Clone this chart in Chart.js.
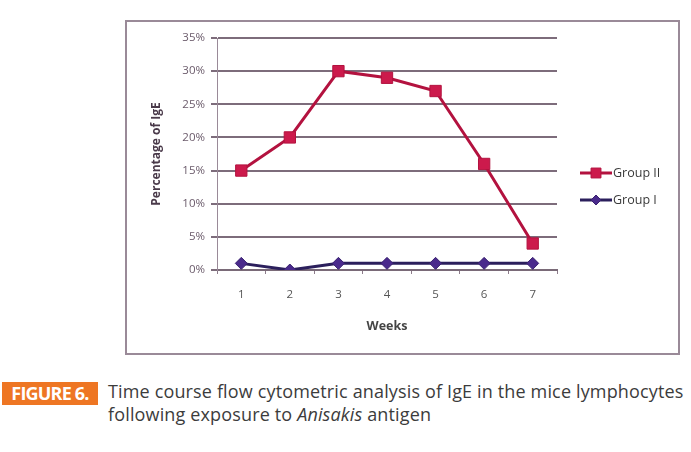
<!DOCTYPE html>
<html lang="en">
<head>
  <meta charset="UTF-8" />
  <title>Figure 6</title>
  <script src="https://cdn.jsdelivr.net/npm/chart.js"></script>
  <style>
    body { margin: 0; width: 691px; height: 452px; background: #fff; position: relative; overflow: hidden; }
    .chart-box { position: absolute; left: 125px; top: 20px; width: 551px; height: 331px; border: 2px solid #9a8a98; }
    .chart-box canvas { display: block; }
    .caption { position: absolute; left: 0; top: 380px; font-family: "Open Sans", sans-serif; color: #3c3c3c; font-size: 18px; line-height: 23px; }
    .caption .tag { position: absolute; left: 2px; top: 2px; width: 96px; height: 23px; background: #ee7623; color: #fff; font-weight: bold; font-size: 18px; line-height: 23px; text-align: center; letter-spacing: -0.8px; }
    .caption .txt { position: absolute; left: 108px; top: 0; width: 600px; white-space: nowrap; letter-spacing: 0.15px; }
  </style>
</head>
<body>

  <div class="chart-box">
    <canvas id="chart" width="551" height="331"></canvas>
  </div>

  <div class="caption">
    <div class="tag">FIGURE 6.</div>
    <div class="txt">Time course flow cytometric analysis of IgE in the mice lymphocytes<br>following exposure to <i>Anisakis</i> antigen</div>
  </div>

  <script>
    const weeks = ["1", "2", "3", "4", "5", "6", "7"];
    const groupII = [15, 20, 30, 29, 27, 16, 4];
    const groupI = [1, 0, 1, 1, 1, 1, 1];
    const yTicks = [0, 5, 10, 15, 20, 25, 30, 35];

    // legende a droite : trait + marqueur comme dans Excel
    const legendeExcel = {
      id: "legendeExcel",
      afterDraw(chart) {
        const ctx = chart.ctx;
        const x0 = chart.chartArea.right + 23;
        let y = 151;
        chart.data.datasets.forEach(ds => {
          ctx.save();
          ctx.strokeStyle = ds.borderColor;
          ctx.lineWidth = 3;
          ctx.beginPath();
          ctx.moveTo(x0, y);
          ctx.lineTo(x0 + 32, y);
          ctx.stroke();
          ctx.fillStyle = ds.pointBackgroundColor;
          ctx.strokeStyle = ds.pointBorderColor;
          ctx.lineWidth = 1;
          Chart.helpers.drawPoint(ctx, { pointStyle: ds.pointStyle, radius: ds.pointRadius - 1, borderWidth: 1 }, x0 + 16, y);
          ctx.fillStyle = "#3a3a3a";
          ctx.font = "12.5px 'Open Sans', sans-serif";
          ctx.textBaseline = "middle";
          ctx.fillText(ds.label, x0 + 33, y);
          ctx.restore();
          y += 27;
        });
      }
    };

    const ctx = document.getElementById("chart").getContext("2d");
    new Chart(ctx, {
      type: "line",
      data: {
        labels: weeks,
        datasets: [
          {
            label: "Group II",
            data: groupII,
            borderColor: "#b3123f",
            borderWidth: 3,
            pointStyle: "rect",
            pointRadius: 8,
            pointBackgroundColor: "#cc1a4c",
            pointBorderColor: "#b3123f",
            pointBorderWidth: 1,
            tension: 0
          },
          {
            label: "Group I",
            data: groupI,
            borderColor: "#2b1f5c",
            borderWidth: 3,
            pointStyle: "rectRot",
            pointRadius: 6,
            pointBackgroundColor: "#4a2a8c",
            pointBorderColor: "#3a2270",
            pointBorderWidth: 1,
            tension: 0
          }
        ]
      },
      options: {
        responsive: false,
        animation: false,
        layout: { padding: { top: 16, right: 121, left: 0, bottom: 19 } },
        plugins: {
          legend: { display: false },
          tooltip: { enabled: false }
        },
        scales: {
          x: {
            offset: true,
            grid: { display: true, offset: true, drawOnChartArea: false, drawTicks: true, tickLength: 4, color: "#8c7c8a", lineWidth: 1 },
            border: { display: true, color: "#7a6a78", width: 2 },
            ticks: { color: "#555", padding: 14, font: { family: "'Open Sans', sans-serif", size: 11.5 } },
            title: { display: true, text: "Weeks", color: "#444", padding: { top: 12, bottom: 0 }, font: { family: "'Open Sans', sans-serif", size: 12.5, weight: "bold" } },
            afterFit(scale) { scale.height = 64; }
          },
          y: {
            min: 0,
            max: 35,
            afterBuildTicks(scale) { scale.ticks = yTicks.map(v => ({ value: v })); },
            grid: { color: "#7d6c7b", lineWidth: 2, drawTicks: true, tickLength: 6 },
            border: { display: true, color: "#9a8a98", width: 1 },
            ticks: { color: "#6b5b6b", padding: 6, font: { family: "'Open Sans', sans-serif", size: 11.5 }, callback: v => v + "%" },
            title: { display: true, text: "Percentage of IgE", color: "#4a3a4a", padding: { top: 22, bottom: 0 }, font: { family: "'Open Sans', sans-serif", size: 12, weight: "bold" } },
            afterFit(scale) { scale.width = 90; }
          }
        }
      },
      plugins: [legendeExcel]
    });
  </script>

</body>
</html>
